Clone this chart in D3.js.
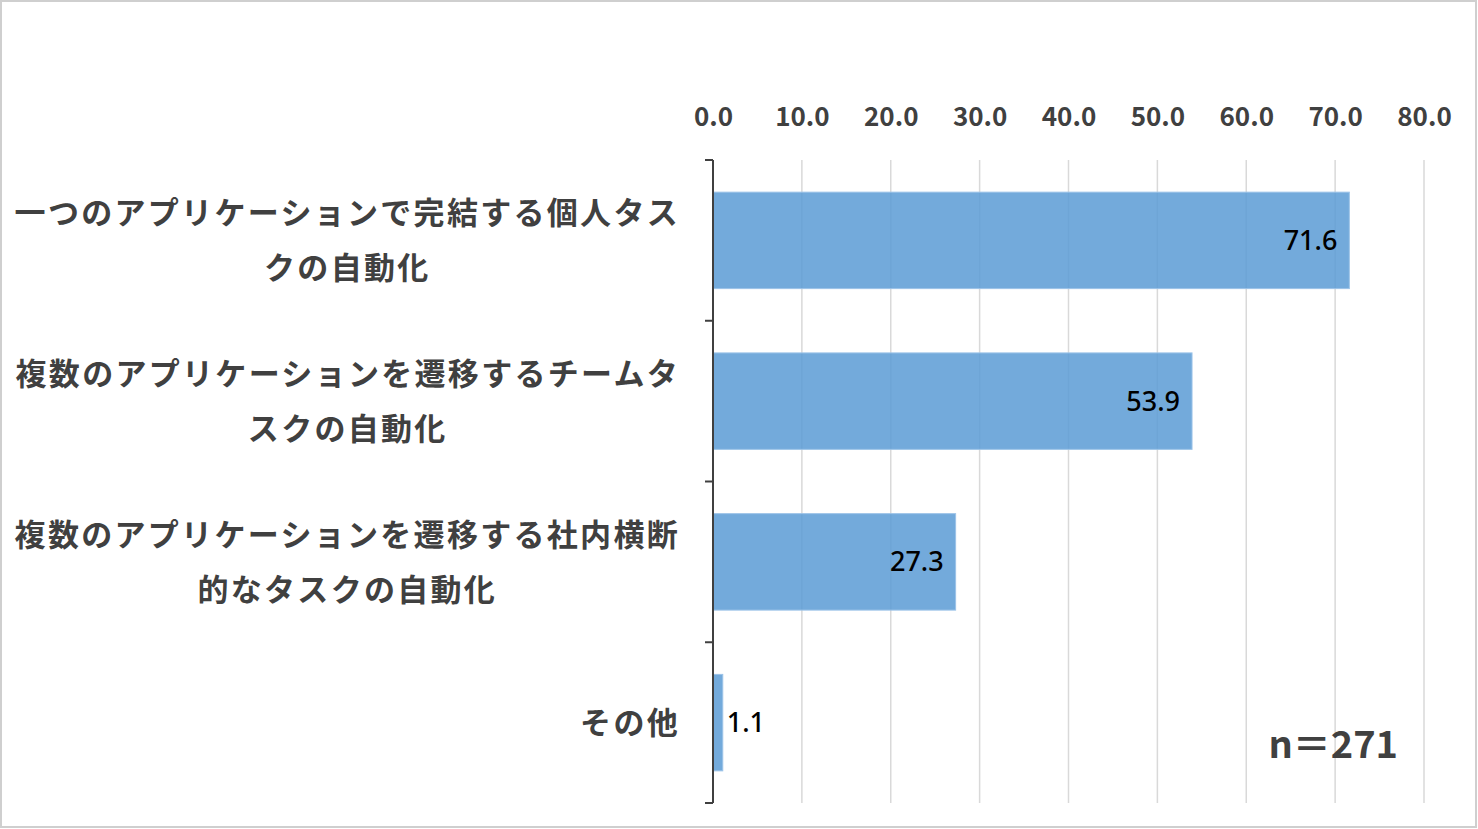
<!DOCTYPE html>
<html>
<head>
<meta charset="utf-8">
<script src="https://cdn.jsdelivr.net/npm/d3@7"></script>
<style>
  html, body { margin: 0; padding: 0; background: #fff; }
  svg { display: block; }
</style>
</head>
<body>
<div id="chart"></div>
<script>
// data
const categories = [
  ['一つのアプリケーションで完結する個人タス', 'クの自動化'],
  ['複数のアプリケーションを遷移するチームタ', 'スクの自動化'],
  ['複数のアプリケーションを遷移する社内横断', '的なタスクの自動化'],
  ['その他']
]
const values = [71.6, 53.9, 27.3, 1.1]
const tickValues = [0, 10, 20, 30, 40, 50, 60, 70, 80]
const sampleNote = 'n＝271'

const width = 1478, height = 829
const margin = {top: 160, right: 54, bottom: 26, left: 713}

const svg = d3.select('#chart').append('svg')
  .attr('width', width)
  .attr('height', height)

// outer frame
svg.append('rect')
  .attr('x', 1).attr('y', 1)
  .attr('width', width - 3).attr('height', height - 3)
  .attr('fill', '#fff')
  .attr('stroke', '#cfcfcf')
  .attr('stroke-width', 2)

const x = d3.scaleLinear()
  .domain([0, 80])
  .range([margin.left, width - margin.right])

const y = d3.scaleBand()
  .domain(d3.range(values.length))
  .range([margin.top, height - margin.bottom])
  .paddingInner(0.4)
  .paddingOuter(0.2)

const grid = svg.append('g')
const bars = svg.append('g')
const labels = svg.append('g')

// gridlines
grid.selectAll('line')
  .data(tickValues.filter(d => d > 0))
  .enter()
  .append('line')
  .attr('x1', d => x(d)).attr('x2', d => x(d))
  .attr('y1', margin.top).attr('y2', height - margin.bottom)
  .attr('stroke', '#d9d9d9')
  .attr('stroke-width', 1.5)

// top axis labels
svg.append('g')
  .attr('transform', `translate(0,${margin.top - 31})`)
  .call(d3.axisTop(x).tickValues(tickValues).tickSize(0).tickFormat(d3.format('.1f')))
  .call(g => g.select('.domain').remove())
  .selectAll('text')
  .attr('fill', '#404040')
  .style('font-family', '"Noto Sans CJK JP", "Noto Sans", sans-serif')
  .style('font-weight', 'bold')
  .style('font-size', '26px')

// bars
bars.selectAll('rect')
  .data(values)
  .enter()
  .append('rect')
  .attr('x', x(0))
  .attr('y', (d, i) => y(i))
  .attr('width', d => x(d) - x(0))
  .attr('height', y.bandwidth())
  .attr('fill', '#5b9bd5')
  .attr('fill-opacity', 0.85)
  .attr('stroke', '#9cc3e8')
  .attr('stroke-width', 1)

// value labels
labels.selectAll('text')
  .data(values)
  .enter()
  .append('text')
  .attr('x', d => x(d) - x(0) > 60 ? x(d) - 12 : x(d) + 4)
  .attr('y', (d, i) => y(i) + y.bandwidth() / 2)
  .attr('dy', '0.35em')
  .attr('text-anchor', d => x(d) - x(0) > 60 ? 'end' : 'start')
  .attr('fill', '#000')
  .style('font-family', '"Noto Sans", sans-serif')
  .style('font-weight', 500)
  .style('font-size', '27px')
  .text(d => d.toFixed(1))

// left axis: line + ticks at band boundaries
const axisG = svg.append('g')
const bounds = d3.range(values.length + 1).map(i => margin.top + i * (height - margin.bottom - margin.top) / values.length)
axisG.append('line')
  .attr('x1', x(0)).attr('x2', x(0))
  .attr('y1', margin.top).attr('y2', height - margin.bottom)
  .attr('stroke', '#404040')
  .attr('stroke-width', 2)
axisG.selectAll('.tk')
  .data(bounds)
  .enter()
  .append('line')
  .attr('class', 'tk')
  .attr('x1', x(0) - 8).attr('x2', x(0))
  .attr('y1', d => d).attr('y2', d => d)
  .attr('stroke', '#404040')
  .attr('stroke-width', 2)

// category labels (wrapped lines centred, block right aligned)
const labelRight = 680
const lineH = 55
categories.forEach((lines, i) => {
  const cy = y(i) + y.bandwidth() / 2
  const g = svg.append('g')
  const texts = lines.map((t, k) => g.append('text')
    .attr('y', cy + (k - (lines.length - 1) / 2) * lineH)
    .attr('dy', '0.36em')
    .attr('fill', '#404040')
    .style('font-family', '"Noto Sans CJK JP", sans-serif')
    .style('font-weight', 'bold')
    .style('font-size', '31px')
    .style('letter-spacing', '2.3px')
    .text(t))
  const maxW = d3.max(texts, t => t.node().getComputedTextLength())
  texts.forEach(t => {
    t.attr('x', labelRight - maxW / 2).attr('text-anchor', 'middle')
  })
})

// sample size note
svg.append('text')
  .attr('x', 1398)
  .attr('y', 758)
  .attr('text-anchor', 'end')
  .attr('fill', '#404040')
  .style('font-family', '"Noto Sans CJK JP", sans-serif')
  .style('font-weight', 'bold')
  .style('font-size', '38px')
  .text(sampleNote)
</script>
</body>
</html>
